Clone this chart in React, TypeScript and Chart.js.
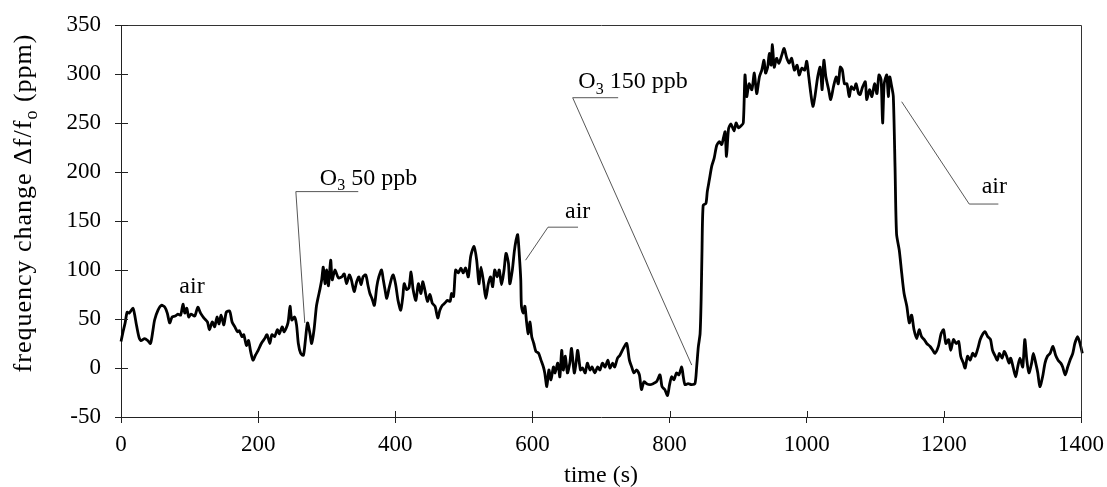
import React, { useEffect, useRef } from "react";
import { Chart, registerables } from "chart.js";

Chart.register(...registerables);

// ---- data ----
const TIME_S = [
  0, 3, 6, 9, 12, 17.5, 20, 22, 26, 29, 34.5, 39, 43, 46.7, 49, 54, 59, 64, 67.5, 71,
  74.4, 79, 83, 87, 90.4, 93, 96, 98.7, 102, 107.5, 112, 116, 121, 126, 129, 133, 136.6, 140, 143, 146,
  150, 153.6, 158.5, 162, 166, 170, 172.5, 176.5, 179, 183, 186, 189, 192.5, 196, 200, 204.6, 209.5, 213, 217, 220,
  224, 228, 231, 235, 238, 243.5, 246.5, 249, 253, 256, 258.6, 262, 266, 269, 272, 275.6, 278, 281.5, 285, 287.8,
  290, 292.7, 295, 297.5, 300, 302.5, 305.8, 308, 312, 317, 322, 325.5, 329, 333, 336, 340, 343.7, 347, 350, 353,
  357, 360, 363, 366, 369.5, 373, 376, 380, 382.5, 385, 387.6, 390.8, 394.8, 397, 400.6, 404, 408, 411, 413, 416.5,
  420, 423, 426, 430, 433.6, 437.5, 440, 443, 447, 450.6, 454, 458, 462, 465, 468.7, 472, 476, 480, 482, 485,
  488, 492, 495.7, 499, 502.6, 506.5, 510, 514.8, 518.7, 522, 525, 529, 532, 535.7, 539, 542, 545, 548.6, 551.6, 555,
  558.6, 561.5, 565, 567, 570.7, 573.6, 576, 578.5, 581, 583, 584, 586.7, 589, 591.6, 594, 596.5, 599, 602, 605, 609,
  612.5, 616, 618, 621, 624, 627, 630.6, 633, 637, 640, 642.7, 645, 648, 651, 654.5, 657, 661, 663.6, 666, 670,
  673, 677, 680, 684, 687, 691, 695, 698.5, 702, 706, 710, 713, 717, 720, 724, 727.6, 732.6, 737.5, 741.4, 744.8,
  748, 752, 756, 759, 762.7, 766.6, 771.5, 776, 781, 786, 789, 793, 797, 800, 803, 806.5, 810, 813.6, 817.7, 820,
  822.5, 827, 832, 837, 839.5, 842, 844.5, 846, 847.3, 849, 853, 855, 858, 861.5, 865, 868.7, 872.6, 876, 878.6, 881,
  883, 886, 889.5, 894, 897, 900.5, 904, 907.5, 910, 912.5, 916, 920, 923.6, 927, 931, 934.5, 937.7, 940, 943, 945.5,
  948, 950, 952.6, 956, 959.5, 963.5, 967, 971, 974.5, 978, 982, 986, 989, 993, 997, 1000, 1003, 1006, 1009, 1012,
  1016, 1019.6, 1022.5, 1025, 1028, 1032, 1035, 1039, 1043, 1046, 1049, 1052, 1055, 1058.6, 1062, 1065, 1069, 1072, 1075.6, 1078,
  1081.6, 1085.5, 1087.5, 1091.6, 1095, 1099, 1102.4, 1105.4, 1108.5, 1110.7, 1113, 1116.7, 1119, 1121, 1124, 1126.3, 1128.8, 1131, 1135, 1138.5,
  1142, 1146, 1149.6, 1153, 1156.5, 1160.4, 1164, 1167.5, 1171.4, 1175, 1180, 1184, 1187, 1192, 1196, 1199.6, 1203, 1207, 1210, 1214,
  1218, 1221.6, 1224.6, 1228.5, 1231, 1234.6, 1238.5, 1242, 1245.6, 1249.6, 1253, 1257, 1260, 1264, 1268, 1271, 1275, 1278, 1281, 1285,
  1288, 1291.6, 1295, 1297.5, 1301.3, 1304.8, 1307.7, 1311, 1315, 1318, 1321, 1324, 1328, 1330.5, 1334, 1337, 1340, 1344, 1347.5, 1351,
  1355, 1359, 1363, 1366.6, 1370.5, 1373.3, 1377, 1380.6, 1384, 1388, 1391, 1395, 1398.6, 1402, 1406, 1409,
];

const SHIFT_PPM = [
  27, 37, 46, 57, 56, 61, 54, 46, 32, 28, 30, 28, 25, 39, 49, 59, 64, 62, 56, 46,
  52, 53, 55, 54, 65, 56, 61, 52, 55, 53, 62, 56, 51, 47, 39, 47, 42, 52, 45, 54,
  44, 57, 58, 47, 42, 37, 38, 32, 34, 23, 28, 17, 8, 13, 18, 25, 30, 34, 25, 34,
  32, 39, 35, 42, 37, 46, 63, 49, 52, 44, 25, 15, 13, 29, 46, 35, 25, 39, 63, 73,
  80, 90, 103, 86, 100, 84, 110, 90, 100, 92, 93, 96, 86, 95, 90, 78, 88, 93, 85, 93,
  95, 85, 76, 71, 64, 83, 93, 100, 90, 80, 71, 81, 92, 95, 85, 69, 59, 73, 86, 80,
  82, 98, 80, 69, 86, 76, 88, 80, 68, 75, 66, 63, 51, 59, 64, 66, 69, 68, 76, 73,
  100, 97, 102, 97, 102, 93, 114, 124, 110, 86, 103, 86, 71, 86, 93, 83, 100, 93, 100, 85,
  100, 117, 107, 86, 100, 119, 130, 136, 114, 90, 63, 56, 63, 46, 35, 47, 32, 25, 17, 15,
  8, 1, -5, -19, -2, -12, 1, -5, 5, -9, 18, -2, 12, -5, 5, 20, -5, 5, 18, -2,
  0, -5, 5, -2, 1, -5, 1, -2, 5, 1, 8, 0, 5, 1, 10, 13, 20, 25, 8, 1,
  -5, -2, -7, -22, -14, -16, -17, -16, -14, -7, -19, -22, -28, -17, -9, -12, -5, -7, 1, -9,
  -17, -16, -17, -16, 1, 22, 35, 69, 120, 166, 168, 180, 192, 206, 214, 227, 231, 228, 235, 241,
  216, 244, 249, 242, 250, 245, 247, 250, 299, 277, 290, 284, 301, 280, 297, 304, 314, 301, 307, 321,
  309, 330, 307, 316, 311, 319, 326, 316, 311, 316, 304, 309, 299, 306, 304, 313, 297, 280, 267, 277,
  297, 307, 284, 314, 297, 284, 274, 287, 297, 290, 307, 304, 290, 290, 277, 287, 284, 290, 280, 279,
  287, 292, 274, 284, 277, 290, 280, 299, 294, 250, 290, 299, 277, 297, 287, 277, 205, 137, 120, 97,
  76, 63, 46, 54, 39, 30, 39, 32, 29, 25, 22, 18, 15, 22, 35, 39, 25, 29, 18, 29,
  25, 27, 12, 5, 0, 12, 8, 15, 12, 20, 29, 35, 37, 32, 29, 18, 12, 8, 15, 10,
  17, 12, 5, 10, 0, -9, 1, 10, 1, 29, 8, -5, 5, 15, 5, -5, -19, -9, 5, 12,
  15, 22, 13, 8, 5, 1, -7, 1, 8, 15, 25, 32, 25, 15, 6, 5,
];

const X_TICKS = [0, 200, 400, 600, 800, 1000, 1200, 1400];
const Y_TICKS = [-50, 0, 50, 100, 150, 200, 250, 300, 350];

const X_TITLE = "time (s)";
const Y_TITLE_PARTS = [
  { t: "frequency change \u0394f/f" },
  { t: "o", sub: true },
  { t: " (ppm)" },
];

// labels and leader lines, in data coordinates
const ANNOTATIONS = [
  { parts: [{ t: "air" }], at: [103.5, 76.5], align: "center", leader: [] as number[][] },
  {
    parts: [{ t: "O" }, { t: "3", sub: true }, { t: " 50 ppb" }],
    at: [290, 186.7],
    align: "left",
    leader: [[268, 46], [255, 180], [346, 180]],
  },
  {
    parts: [{ t: "air" }],
    at: [647.5, 153],
    align: "left",
    leader: [[590, 110], [622.7, 143.7], [666.5, 143.7]],
  },
  {
    parts: [{ t: "O" }, { t: "3", sub: true }, { t: " 150 ppb" }],
    at: [667, 285.4],
    align: "left",
    leader: [[832.3, 3], [658.7, 275.8], [725, 275.8]],
  },
  {
    parts: [{ t: "air" }],
    at: [1255.2, 178.9],
    align: "left",
    leader: [[1138.5, 271.7], [1237, 167.3], [1279.5, 167.3]],
  },
];

const FONT = "'Liberation Serif', 'Times New Roman', serif";

type Part = { t: string; sub?: boolean };

function drawRich(
  ctx: CanvasRenderingContext2D,
  parts: Part[],
  x: number,
  y: number,
  size: number,
  align: string,
  spacing = 0
) {
  const subSize = Math.round(size * 0.68);
  (ctx as any).letterSpacing = `${spacing}px`;
  const widths = parts.map((p) => {
    ctx.font = `${p.sub ? subSize : size}px ${FONT}`;
    return ctx.measureText(p.t).width;
  });
  const total = widths.reduce((a, b) => a + b, 0);
  let cx = align === "center" ? x - total / 2 : align === "right" ? x - total : x;
  ctx.textAlign = "left";
  ctx.textBaseline = "alphabetic";
  parts.forEach((p, i) => {
    ctx.font = `${p.sub ? subSize : size}px ${FONT}`;
    ctx.fillText(p.t, cx, p.sub ? y + size * 0.22 : y);
    cx += widths[i];
  });
  (ctx as any).letterSpacing = "0px";
}

const decorPlugin = {
  id: "decor",
  afterDraw(chart: any) {
    const { ctx, chartArea } = chart;
    const xs = chart.scales.x;
    const ys = chart.scales.y;
    const { left, right, top, bottom } = chartArea;
    ctx.save();
    ctx.strokeStyle = "#333";
    ctx.lineWidth = 1;
    // frame: top and right
    ctx.beginPath();
    ctx.moveTo(Math.round(left) + 0.5, Math.round(top) + 0.5);
    ctx.lineTo(Math.round(right) + 0.5, Math.round(top) + 0.5);
    ctx.lineTo(Math.round(right) + 0.5, Math.round(bottom) + 0.5);
    ctx.stroke();
    // inner halves of the crossing ticks
    ctx.strokeStyle = "#222";
    ctx.beginPath();
    Y_TICKS.forEach((v) => {
      const py = Math.round(ys.getPixelForValue(v)) + 0.5;
      ctx.moveTo(Math.round(left), py);
      ctx.lineTo(Math.round(left) + 7, py);
    });
    X_TICKS.forEach((v) => {
      const px = Math.round(xs.getPixelForValue(v)) + 0.5;
      ctx.moveTo(px, Math.round(bottom));
      ctx.lineTo(px, Math.round(bottom) - 6);
    });
    ctx.stroke();

    // leader lines
    ctx.strokeStyle = "#444";
    ctx.lineWidth = 0.9;
    ANNOTATIONS.forEach((a) => {
      if (!a.leader.length) return;
      ctx.beginPath();
      a.leader.forEach(([tx, ty], i) => {
        const px = xs.getPixelForValue(tx);
        const py = ys.getPixelForValue(ty);
        if (i === 0) ctx.moveTo(px, py);
        else ctx.lineTo(px, py);
      });
      ctx.stroke();
    });

    // annotation text
    ctx.fillStyle = "#000";
    ANNOTATIONS.forEach((a) => {
      drawRich(ctx, a.parts, xs.getPixelForValue(a.at[0]), ys.getPixelForValue(a.at[1]), 24, a.align);
    });

    // axis titles
    drawRich(ctx, [{ t: X_TITLE }], (left + right) / 2, 482, 24, "center");
    ctx.save();
    ctx.translate(31, 203);
    ctx.rotate(-Math.PI / 2);
    drawRich(ctx, Y_TITLE_PARTS, 0, 0, 26, "center", 1);
    ctx.restore();

    ctx.restore();
  },
};

export default function App() {
  const ref = useRef<HTMLCanvasElement | null>(null);

  useEffect(() => {
    if (!ref.current) return;
    const points = TIME_S.map((t, i) => ({ x: t, y: SHIFT_PPM[i] }));
    const chart = new Chart(ref.current, {
      type: "line",
      data: {
        datasets: [
          {
            data: points,
            borderColor: "#000",
            borderWidth: 2.8,
            pointRadius: 0,
            tension: 0.25,
            fill: false,
            clip: false as any,
          },
        ],
      },
      options: {
        animation: false,
        responsive: false,
        events: [],
        layout: { padding: { left: 0, top: 25, right: 26, bottom: 0 } },
        plugins: {
          legend: { display: false },
          tooltip: { enabled: false },
          title: { display: false },
        },
        scales: {
          x: {
            type: "linear",
            min: 0,
            max: 1400,
            afterBuildTicks: (s: any) => {
              s.ticks = X_TICKS.map((v) => ({ value: v }));
            },
            afterFit: (s: any) => {
              s.height = 70;
              s.paddingLeft = 0;
              s.paddingRight = 0;
            },
            ticks: {
              color: "#000",
              font: { family: FONT, size: 23 },
              padding: 8,
              maxRotation: 0,
              autoSkip: false,
              callback: (v: any) => String(v),
            },
            grid: {
              drawOnChartArea: false,
              drawTicks: true,
              tickLength: 6,
              color: "#222",
            },
            border: { display: true, color: "#222", width: 1 },
          },
          y: {
            type: "linear",
            min: -50,
            max: 350,
            afterBuildTicks: (s: any) => {
              s.ticks = Y_TICKS.map((v) => ({ value: v }));
            },
            afterFit: (s: any) => {
              s.width = 121;
              s.paddingTop = 0;
              s.paddingBottom = 0;
            },
            ticks: {
              color: "#000",
              font: { family: FONT, size: 23 },
              padding: 14,
              autoSkip: false,
              callback: (v: any) => String(v),
            },
            grid: {
              drawOnChartArea: false,
              drawTicks: true,
              tickLength: 6,
              color: "#222",
            },
            border: { display: true, color: "#222", width: 1 },
          },
        },
      },
      plugins: [decorPlugin],
    });
    return () => chart.destroy();
  }, []);

  return (
    <div style={{ position: "absolute", left: 0, top: 0, width: 1107, height: 487, background: "#fff" }}>
      <canvas ref={ref} width={1107} height={487} style={{ display: "block" }} />
    </div>
  );
}
